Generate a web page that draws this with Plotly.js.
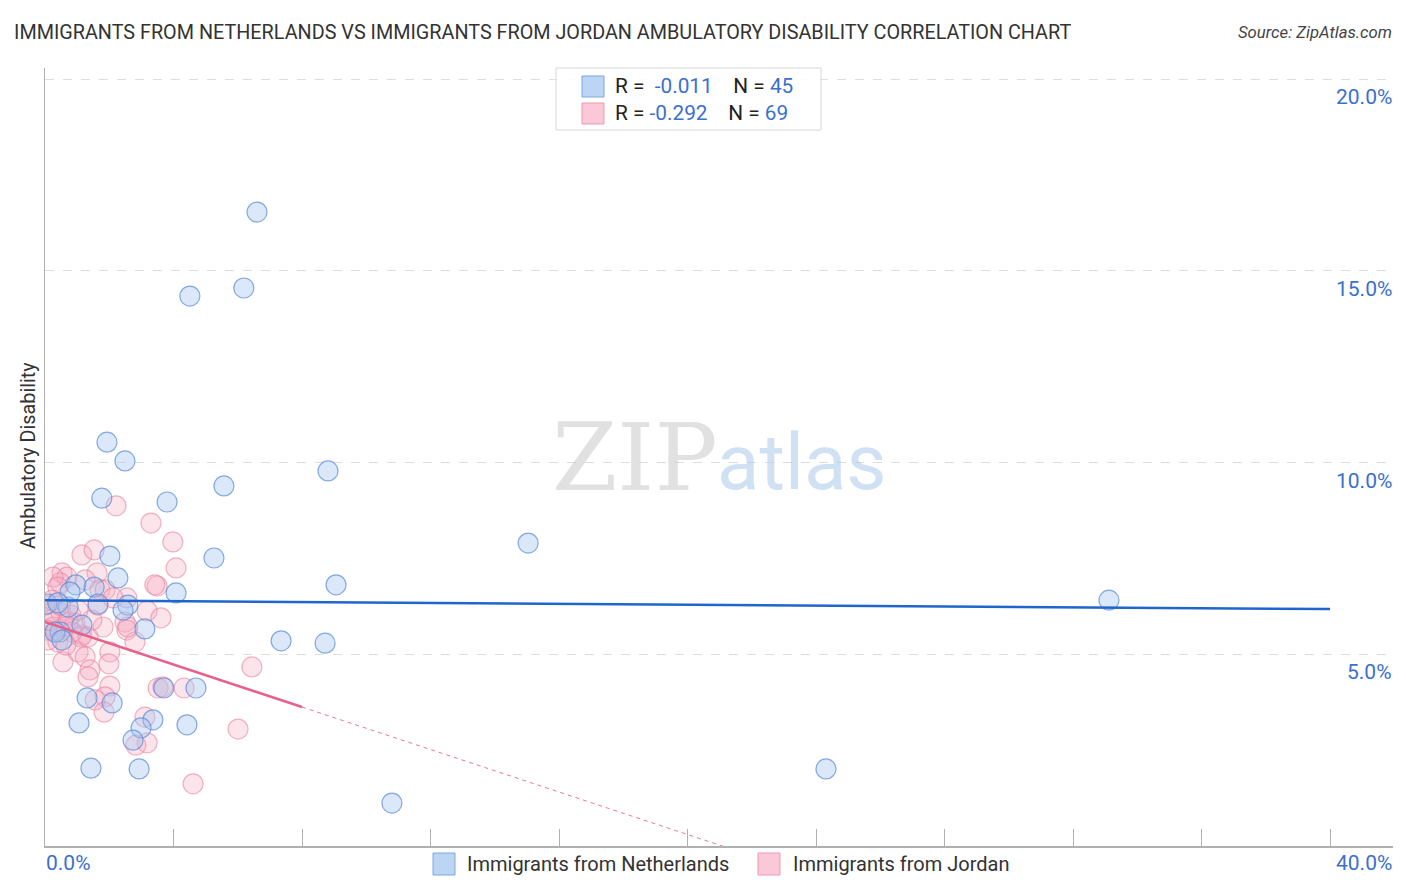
<!DOCTYPE html>
<html>
<head>
<meta charset="utf-8">
<script src="https://cdn.plot.ly/plotly-3.0.1.min.js"></script>
<style>
  html, body { margin: 0; padding: 0; background: #fff; }
  #chart { width: 1406px; height: 892px; }
</style>
</head>
<body>
<div id="chart"></div>
<script>
// Immigrants from Netherlands (blue)
var nethX = [6.60, 4.51, 6.19, 1.93, 2.49, 8.81, 5.57, 1.77, 3.80, 15.04, 5.26, 2.02, 2.27, 0.96, 9.06,
             4.08, 1.53, 33.12, 0.06, 1.65, 2.58, 2.43, 0.72, 3.11, 1.15, 7.35, 8.72, 0.47, 0.31, 3.70,
             4.70, 1.31, 2.09, 3.36, 1.06, 4.42, 2.99, 2.74, 1.43, 2.93, 24.31, 10.80, 0.78, 0.40, 0.53]
var nethY = [16.53, 14.34, 14.55, 10.53, 10.04, 9.78, 9.39, 9.07, 8.97, 7.90, 7.51, 7.56, 6.99, 6.81, 6.81,
             6.60, 6.75, 6.41, 6.31, 6.31, 6.28, 6.15, 6.23, 5.66, 5.76, 5.35, 5.29, 5.58, 5.58, 4.12,
             4.12, 3.86, 3.73, 3.29, 3.21, 3.16, 3.08, 2.76, 2.03, 2.01, 2.01, 1.12, 6.62, 6.34, 5.37]

// Immigrants from Jordan (pink)
var jordX = [2.21, 3.30, 3.98, 1.15, 1.53, 4.08, 0.53, 0.68, 1.62, 3.49, 2.55, 1.71, 0.47, 3.18, 3.61,
             2.49, 1.81, 2.55, 2.80, 1.15, 0.56, 2.02, 1.99, 1.03, 1.25, 1.40, 1.34, 6.44, 2.02, 1.87,
             1.56, 1.84, 3.52, 4.33, 3.67, 3.11, 3.18, 2.83, 6.01, 4.61,
             0.25, 1.25, 0.40, 1.87, 0.16, 0.50, 0.81, 0.25, 0.62, 0.93, 1.12, 1.34, 0.40, 2.58, 3.42,
             0.16, 0.34, 0.06, 0.72, 1.46, 0.47, 0.09, 0.84, 0.65, 1.65, 2.12, 0.00, 0.22, 1.03]
var jordY = [8.87, 8.42, 7.93, 7.59, 7.72, 7.25, 7.12, 7.01, 7.12, 6.78, 6.47, 6.68, 6.86, 6.13, 5.95,
             5.84, 5.71, 5.63, 5.32, 5.50, 4.80, 5.06, 4.75, 5.06, 4.93, 4.59, 4.41, 4.67, 4.17, 3.89,
             3.81, 3.49, 4.12, 4.12, 4.15, 3.36, 2.69, 2.63, 3.05, 1.62,
             7.01, 6.94, 6.75, 6.68, 6.08, 6.08, 6.02, 5.71, 5.71, 5.81, 5.45, 5.45, 5.32, 5.71, 6.81,
             5.89, 5.58, 5.63, 5.84, 5.89, 6.28, 5.37, 5.58, 5.24, 6.28, 6.47, 6.28, 6.41, 6.15]

// trend lines
var nethTrend = { intercept: 6.41, slope: -0.0058, solidTo: 40 }
var jordTrend = { intercept: 5.84, slope: -0.277, solidTo: 8, dashTo: 40 }

var yTicks = [5, 10, 15, 20]
var yTickText = ['5.0%', '10.0%', '15.0%', '20.0%']
var xTicks = [0, 4, 8, 12, 16, 20, 24, 28, 32, 36, 40]

var blueText = '#3b6fd0'
var font = 'Roboto, "Open Sans", sans-serif'

function linePts(t, x0, x1) {
    return { x: [x0, x1], y: [t.intercept + t.slope * x0, t.intercept + t.slope * x1] }
}

var nethLine = linePts(nethTrend, 0, nethTrend.solidTo)
var jordSolid = linePts(jordTrend, 0, jordTrend.solidTo)
var jordDash = linePts(jordTrend, jordTrend.solidTo, jordTrend.dashTo)

var data = [
    {
        x: jordX, y: jordY, mode: 'markers', type: 'scatter', name: 'Immigrants from Jordan',
        marker: { size: 20, color: 'rgba(246,170,192,0.32)', line: { color: 'rgba(232,130,162,0.6)', width: 1.2 } },
        hoverinfo: 'x+y'
    },
    {
        x: nethX, y: nethY, mode: 'markers', type: 'scatter', name: 'Immigrants from Netherlands',
        marker: { size: 20, color: 'rgba(165,198,240,0.4)', line: { color: 'rgba(90,140,215,0.72)', width: 1.2 } },
        hoverinfo: 'x+y'
    },
    {
        x: nethLine.x, y: nethLine.y, mode: 'lines', type: 'scatter',
        line: { color: '#1f66cc', width: 2.5 }, hoverinfo: 'skip'
    },
    {
        x: jordSolid.x, y: jordSolid.y, mode: 'lines', type: 'scatter',
        line: { color: '#e8608c', width: 2.5 }, hoverinfo: 'skip'
    },
    {
        x: jordDash.x, y: jordDash.y, mode: 'lines', type: 'scatter',
        line: { color: '#e8789c', width: 1, dash: '4px,4px' }, hoverinfo: 'skip'
    }
]

// plot area: left 45px, right 1393px, top 68px, bottom 846px
var W = 1406, H = 892, L = 45, R = 13, T = 68, B = 46
var pw = W - L - R, ph = H - T - B
function px(x) { return (x - L) / pw }
function py(y) { return (H - B - y) / ph }

var annotations = [
    {
        text: 'IMMIGRANTS FROM NETHERLANDS VS IMMIGRANTS FROM JORDAN AMBULATORY DISABILITY CORRELATION CHART',
        xref: 'paper', yref: 'paper', x: px(12), y: py(33), xanchor: 'left', yanchor: 'middle',
        showarrow: false, font: { size: 19.8, color: '#333', family: font }
    },
    {
        text: '<i>Source: ZipAtlas.com</i>',
        xref: 'paper', yref: 'paper', x: px(1394), y: py(33), xanchor: 'right', yanchor: 'middle',
        showarrow: false, font: { size: 16.7, color: '#444', family: font }
    },
    {
        text: 'Ambulatory Disability', textangle: -90,
        xref: 'paper', yref: 'paper', x: px(28), y: py(456), xanchor: 'center', yanchor: 'middle',
        showarrow: false, font: { size: 19.8, color: '#333', family: font }
    },
    {
        text: '0.0%', xref: 'paper', yref: 'paper', x: px(44), y: py(863), xanchor: 'left', yanchor: 'middle',
        showarrow: false, font: { size: 21, color: blueText, family: font }
    },
    {
        text: '40.0%', xref: 'paper', yref: 'paper', x: px(1394), y: py(863), xanchor: 'right', yanchor: 'middle',
        showarrow: false, font: { size: 21, color: blueText, family: font }
    },
    {
        text: 'ZIP', xref: 'paper', yref: 'paper', x: px(635), y: py(457), xanchor: 'center', yanchor: 'middle',
        showarrow: false, font: { size: 94, color: 'rgba(200,200,200,0.55)', family: 'DejaVu Serif, serif' }
    },
    {
        text: 'atlas', xref: 'paper', yref: 'paper', x: px(802), y: py(462), xanchor: 'center', yanchor: 'middle',
        showarrow: false, font: { size: 78, color: 'rgba(170,200,235,0.55)', family: font }
    },
    {
        text: 'R =  <span style="color:' + blueText + '">-0.011</span>    N = <span style="color:' + blueText + '">45</span>',
        xref: 'paper', yref: 'paper', x: px(613), y: py(86), xanchor: 'left', yanchor: 'middle',
        showarrow: false, font: { size: 20.8, color: '#222', family: font }
    },
    {
        text: 'R = <span style="color:' + blueText + '">-0.292</span>    N = <span style="color:' + blueText + '">69</span>',
        xref: 'paper', yref: 'paper', x: px(613), y: py(113), xanchor: 'left', yanchor: 'middle',
        showarrow: false, font: { size: 20.8, color: '#222', family: font }
    },
    {
        text: 'Immigrants from Netherlands', xref: 'paper', yref: 'paper', x: px(465), y: py(864),
        xanchor: 'left', yanchor: 'middle', showarrow: false, font: { size: 20, color: '#333', family: font }
    },
    {
        text: 'Immigrants from Jordan', xref: 'paper', yref: 'paper', x: px(791), y: py(864),
        xanchor: 'left', yanchor: 'middle', showarrow: false, font: { size: 20, color: '#333', family: font }
    }
]

yTicks.forEach(function (v, i) {
    annotations.push({
        text: yTickText[i], xref: 'paper', yref: 'y', x: px(1394), y: v, yshift: -18,
        xanchor: 'right', yanchor: 'middle', showarrow: false,
        font: { size: 21, color: blueText, family: font }
    })
})

var shapes = [
    { type: 'rect', xref: 'paper', yref: 'paper', x0: px(556), x1: px(821), y0: py(68), y1: py(130),
      line: { color: '#d8d8d8', width: 1 }, fillcolor: 'rgba(255,255,255,0.9)', layer: 'above' },
    { type: 'rect', xref: 'paper', yref: 'paper', x0: px(582), x1: px(604), y0: py(76), y1: py(97),
      line: { color: '#7aa6e0', width: 1 }, fillcolor: '#bcd5f5', layer: 'above' },
    { type: 'rect', xref: 'paper', yref: 'paper', x0: px(582), x1: px(604), y0: py(103), y1: py(124),
      line: { color: '#eb9ab4', width: 1 }, fillcolor: '#fac8d6', layer: 'above' },
    { type: 'rect', xref: 'paper', yref: 'paper', x0: px(433), x1: px(455), y0: py(853), y1: py(875),
      line: { color: '#7aa6e0', width: 1 }, fillcolor: '#bcd5f5' },
    { type: 'rect', xref: 'paper', yref: 'paper', x0: px(758), x1: px(780), y0: py(853), y1: py(875),
      line: { color: '#eb9ab4', width: 1 }, fillcolor: '#fac8d6' }
]

var layout = {
    width: W, height: H,
    margin: { l: L, r: R, t: T, b: B, pad: 0 },
    paper_bgcolor: '#fff', plot_bgcolor: '#fff',
    showlegend: false,
    font: { family: font },
    xaxis: {
        range: [0, 40 * pw / (1330 - L)], tickvals: xTicks, showticklabels: false,
        ticks: 'inside', ticklen: 17, tickcolor: '#b0b0b0', tickwidth: 1,
        showgrid: false, zeroline: false, showline: true, linecolor: '#b0b0b0', linewidth: 1.5
    },
    yaxis: {
        range: [0, ph / 38.35], tickvals: yTicks, showticklabels: false,
        showgrid: true, gridcolor: '#dedede', griddash: 'dash', gridwidth: 1,
        zeroline: false, showline: true, linecolor: '#b0b0b0', linewidth: 1.5
    },
    annotations: annotations,
    shapes: shapes
}

Plotly.newPlot('chart', data, layout, { displayModeBar: false, staticPlot: true })
</script>
</body>
</html>
